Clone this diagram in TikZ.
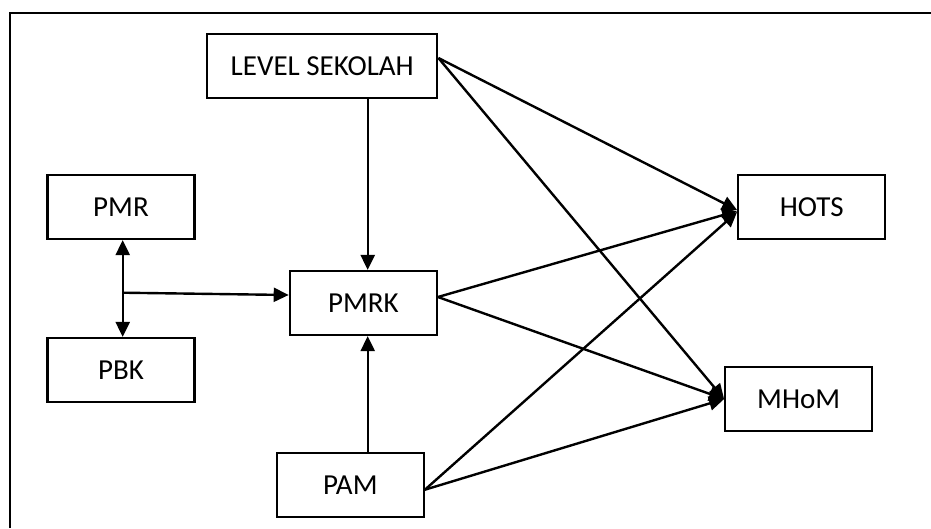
\documentclass[tikz,border=0pt]{standalone}
\usepackage{fontspec}
\setmainfont{Carlito}
\usetikzlibrary{arrows.meta}
\begin{document}
\begin{tikzpicture}[x=1pt,y=-1pt,
  box/.style={draw,line width=2.2pt,minimum height=64pt,font=\fontsize{29}{32}\selectfont,inner sep=0pt},
  conn/.style={line width=2.4pt,-{Triangle[length=15pt,width=14pt]}},
  dconn/.style={line width=2.4pt,{Triangle[length=15pt,width=14pt]}-{Triangle[length=15pt,width=14pt]}}]
\useasboundingbox (0,0) rectangle (931,528);
\fill[white] (0,0) rectangle (931,528);
\draw[line width=2pt] (10,528) -- (10,12.5) -- (931,12.5);
\node[box,minimum width=230pt] (lvl) at (322.3,66) {LEVEL SEKOLAH};
\node[box,minimum width=147pt] (pmr) at (121,207) {PMR};
\node[box,minimum width=147pt] (pbk) at (121,370) {PBK};
\node[box,minimum width=147pt] (pmrk) at (363.3,303) {PMRK};
\node[box,minimum width=147pt] (pam) at (350.3,484.7) {PAM};
\node[box,minimum width=147pt] (hots) at (811.7,207) {HOTS};
\node[box,minimum width=147pt] (mhom) at (798.7,399) {MHoM};
\coordinate (br) at (122.7,292.7);
\draw[dconn] ([xshift=1.7pt]pmr.south) -- ([xshift=1.7pt]pbk.north);
\draw[conn] (br) -- ([yshift=8pt]pmrk.west);
\draw[conn] ([xshift=4.4pt]pmrk.north |- lvl.south) -- ([xshift=4.4pt]pmrk.north);
\draw[conn] ([xshift=4.4pt]pmrk.south |- pam.north) -- ([xshift=4.4pt]pmrk.south);
\draw[conn] ([yshift=8pt]lvl.east) -- ([yshift=-3pt]hots.west);
\draw[conn] ([yshift=8pt]lvl.east) -- (mhom.west);
\draw[conn] ([yshift=6pt]pmrk.east) -- ([yshift=-4pt]hots.west);
\draw[conn] ([yshift=6pt]pmrk.east) -- (mhom.west);
\draw[conn] ([yshift=-5pt]pam.east) -- ([yshift=-5pt]hots.west);
\draw[conn] ([yshift=-5pt]pam.east) -- (mhom.west);
\end{tikzpicture}
\end{document}
